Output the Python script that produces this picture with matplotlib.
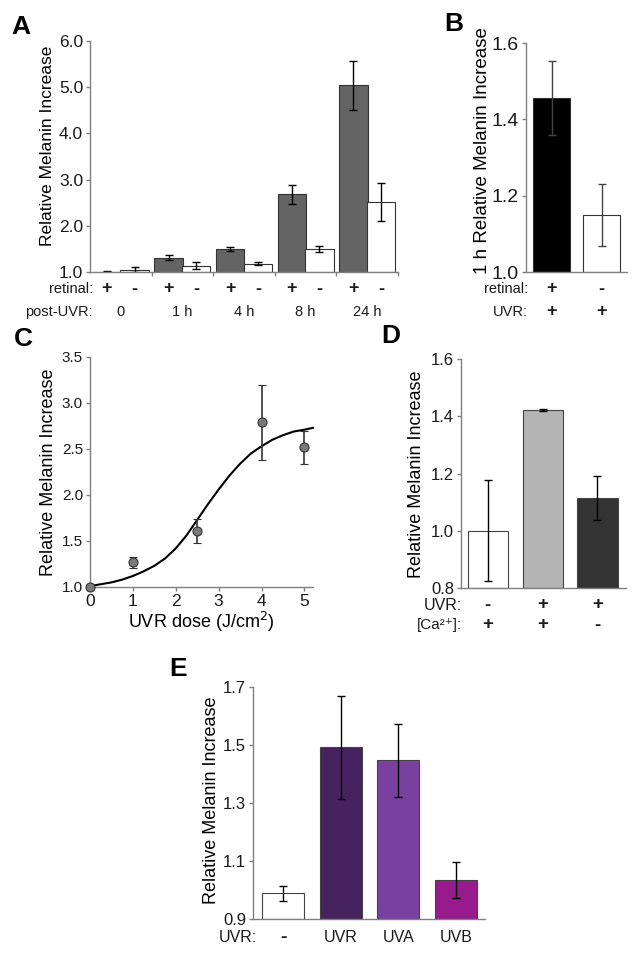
import matplotlib
matplotlib.use("Agg")
import matplotlib.pyplot as plt
from matplotlib.transforms import blended_transform_factory
import numpy as np

plt.rcParams['font.family'] = ['Liberation Sans', 'DejaVu Sans']

# ---------------- data ----------------
# Panel A
a_groups = ["0", "1 h", "4 h", "8 h", "24 h"]
a_ret_plus = [1.01, 1.31, 1.50, 2.68, 5.04]
a_ret_plus_err = [0.01, 0.05, 0.04, 0.21, 0.53]
a_ret_minus = [1.05, 1.14, 1.18, 1.50, 2.52]
a_ret_minus_err = [0.05, 0.08, 0.03, 0.06, 0.41]
a_yticks = [1.0, 2.0, 3.0, 4.0, 5.0, 6.0]

# Panel B
b_values = [1.455, 1.149]
b_err = [0.097, 0.081]
b_retinal = ["+", "-"]
b_uvr = ["+", "+"]
b_yticks = [1.0, 1.2, 1.4, 1.6]

# Panel C
c_dose = [0, 1, 2.5, 4, 5]
c_mean = [1.00, 1.27, 1.61, 2.79, 2.52]
c_err = [0.0, 0.06, 0.13, 0.41, 0.18]
c_fit_x = [0, 0.25, 0.5, 0.75, 1.0, 1.25, 1.5, 1.75, 2.0, 2.25, 2.5, 2.75,
           3.0, 3.25, 3.5, 3.75, 4.0, 4.25, 4.5, 4.75, 5.0, 5.2]
c_fit_y = [1.01, 1.03, 1.05, 1.08, 1.12, 1.17, 1.23, 1.31, 1.42, 1.56, 1.73, 1.90,
           2.06, 2.21, 2.34, 2.45, 2.53, 2.60, 2.65, 2.69, 2.71, 2.73]
c_yticks = [1.0, 1.5, 2.0, 2.5, 3.0, 3.5]
c_xticks = [0, 1, 2, 3, 4, 5]

# Panel D
d_values = [1.00, 1.422, 1.114]
d_err = [0.177, 0.004, 0.077]
d_uvr = ["-", "+", "+"]
d_ca = ["+", "+", "-"]
d_yticks = [0.8, 1.0, 1.2, 1.4, 1.6]

# Panel E
e_labels = ["-", "UVR", "UVA", "UVB"]
e_values = [0.988, 1.492, 1.447, 1.035]
e_err = [0.025, 0.178, 0.125, 0.062]
e_yticks = [0.9, 1.1, 1.3, 1.5, 1.7]

# ---------------- layout helpers ----------------
W, H = 641, 957
fig = plt.figure(figsize=(W / 100, H / 100), dpi=100)

def ax_px(left, top, right, bottom):
    return fig.add_axes([left / W, 1 - bottom / H, (right - left) / W, (bottom - top) / H])

SPINE = '#808080'
LABFS = 12.5
ROWFS = 10.5

def style(ax, tickfs):
    for s in ['top', 'right']:
        ax.spines[s].set_visible(False)
    for s in ['left', 'bottom']:
        ax.spines[s].set_color(SPINE)
        ax.spines[s].set_linewidth(1.0)
    ax.tick_params(axis='both', direction='out', length=3, width=1, color=SPINE,
                   labelsize=tickfs, labelcolor='#1a1a1a', pad=2)

def fy(ypx):
    return 1 - ypx / H

def row_label(text, ypx, xpx_right, fs=ROWFS):
    fig.text(xpx_right / W, fy(ypx), text, ha='right', va='center', fontsize=fs, color='#1a1a1a')

def row_marks(ax, xs, marks, ypx, fs=ROWFS):
    tr = blended_transform_factory(ax.transData, fig.transFigure)
    for x, m in zip(xs, marks):
        pm = m in ('+', '-')
        ax.text(x, fy(ypx), m, transform=tr, ha='center', va='center',
                fontsize=fs + 2.5 if pm else fs,
                fontweight='bold' if pm else 'normal', color='#1a1a1a', clip_on=False)

def panel_letter(xpx, ypx, letter):
    fig.text(xpx / W, fy(ypx), letter, ha='left', va='center', fontsize=19, fontweight='bold')

ekw = dict(ecolor='black', elinewidth=1.0, capsize=3, capthick=1.0)

# ---------------- Panel A ----------------
axA = ax_px(90, 41, 398, 272)
xg = np.arange(len(a_groups))
axA.bar(xg + 0.275, [v - 1 for v in a_ret_plus], bottom=1, width=0.46, color='#646464',
        edgecolor='#333333', linewidth=0.8, yerr=a_ret_plus_err, error_kw=ekw, zorder=2)
axA.bar(xg + 0.725, [v - 1 for v in a_ret_minus], bottom=1, width=0.46, color='white',
        edgecolor='#333333', linewidth=0.8, yerr=a_ret_minus_err, error_kw=ekw, zorder=2)
axA.set_xlim(0, len(a_groups))
axA.set_ylim(1.0, 6.0)
axA.set_yticks(a_yticks)
axA.set_yticklabels([f"{t:.1f}" for t in a_yticks])
axA.set_xticks(np.arange(1, len(a_groups) + 1))
axA.set_xticklabels([])
style(axA, 12.5)
axA.set_ylabel("Relative Melanin Increase", fontsize=LABFS)
axA.yaxis.set_label_coords(-0.114, 0.545)
row_label("retinal:", 289, 93)
row_label("post-UVR:", 312, 93)
a_pm_x = []
a_pm = []
for i in xg:
    a_pm_x += [i + 0.275, i + 0.725]
    a_pm += ["+", "-"]
row_marks(axA, a_pm_x, a_pm, 289)
row_marks(axA, xg + 0.5, a_groups, 312)
panel_letter(11, 27, "A")

# ---------------- Panel B ----------------
axB = ax_px(526, 43, 627, 272)
xb = np.arange(len(b_values))
axB.bar(xb, [v - 1 for v in b_values], bottom=1, width=0.74, color=['black', 'white'],
        edgecolor='#333333', linewidth=0.8, yerr=b_err,
        error_kw=dict(ecolor='#444444', elinewidth=1.0, capsize=3, capthick=1.0), zorder=2)
axB.set_xlim(-0.51, 1.51)
axB.set_ylim(1.0, 1.6)
axB.set_yticks(b_yticks)
axB.set_yticklabels([f"{t:.1f}" for t in b_yticks])
axB.set_xticks([])
style(axB, 14)
axB.set_ylabel("1 h Relative Melanin Increase", fontsize=13.5)
axB.yaxis.set_label_coords(-0.345, 0.53)
row_label("retinal:", 289, 528)
row_label("UVR:", 312, 528)
row_marks(axB, xb, b_retinal, 289)
row_marks(axB, xb, b_uvr, 312)
panel_letter(444, 24, "B")

# ---------------- Panel C ----------------
axC = ax_px(90, 357, 313, 587)
axC.plot(c_fit_x, c_fit_y, color='black', linewidth=1.5, zorder=2, clip_on=False)
axC.errorbar(c_dose, c_mean, yerr=c_err, fmt='o', color='#7a7a7a', markersize=6.5,
             markeredgecolor='#333333', markeredgewidth=0.8, ecolor='#333333',
             elinewidth=1.2, capsize=3, capthick=1.2, zorder=3, clip_on=False)
axC.set_xlim(0, 5.2)
axC.set_ylim(1.0, 3.5)
axC.set_yticks(c_yticks)
axC.set_yticklabels([f"{t:.1f}" for t in c_yticks])
axC.set_xticks(c_xticks)
style(axC, 11)
axC.tick_params(axis='x', labelsize=12.5)
axC.set_ylabel("Relative Melanin Increase", fontsize=13)
axC.yaxis.set_label_coords(-0.148, 0.5)
axC.set_xlabel("UVR dose (J/cm$^2$)", fontsize=13, labelpad=1)
panel_letter(14, 339, "C")

# ---------------- Panel D ----------------
axD = ax_px(461, 359, 626, 588)
xd = np.arange(len(d_values))
axD.bar(xd, [v - 0.8 for v in d_values], bottom=0.8, width=0.73,
        color=['white', '#b4b4b4', '#333333'], edgecolor='#444444', linewidth=0.8,
        yerr=d_err, error_kw=ekw, zorder=2)
axD.set_xlim(-0.49, 2.52)
axD.set_ylim(0.8, 1.6)
axD.set_yticks(d_yticks)
axD.set_yticklabels([f"{t:.1f}" for t in d_yticks])
axD.set_xticks([])
style(axD, 12)
axD.set_ylabel("Relative Melanin Increase", fontsize=13)
axD.yaxis.set_label_coords(-0.218, 0.496)
row_label("UVR:", 605, 462, fs=11.5)
row_label("[Ca²⁺]:", 625, 462, fs=11)
row_marks(axD, xd, d_uvr, 605, fs=11)
row_marks(axD, xd, d_ca, 625, fs=11)
panel_letter(381, 336, "D")

# ---------------- Panel E ----------------
axE = ax_px(253, 687, 485, 919)
xe = np.arange(len(e_values))
axE.bar(xe, [v - 0.9 for v in e_values], bottom=0.9, width=0.73,
        color=['white', '#46225f', '#7a40a0', '#981b8e'], edgecolor='#444444', linewidth=0.8,
        yerr=e_err, error_kw=ekw, zorder=2)
axE.set_xlim(-0.52, 3.5)
axE.set_ylim(0.9, 1.7)
axE.set_yticks(e_yticks)
axE.set_yticklabels([f"{t:.1f}" for t in e_yticks])
axE.set_xticks([])
style(axE, 12)
axE.set_ylabel("Relative Melanin Increase", fontsize=13)
axE.yaxis.set_label_coords(-0.142, 0.513)
row_label("UVR:", 938, 257, fs=11.5)
row_marks(axE, xe, e_labels, 938, fs=11.5)
panel_letter(169, 669, "E")

fig.savefig("out.png", dpi=100, facecolor='white')
